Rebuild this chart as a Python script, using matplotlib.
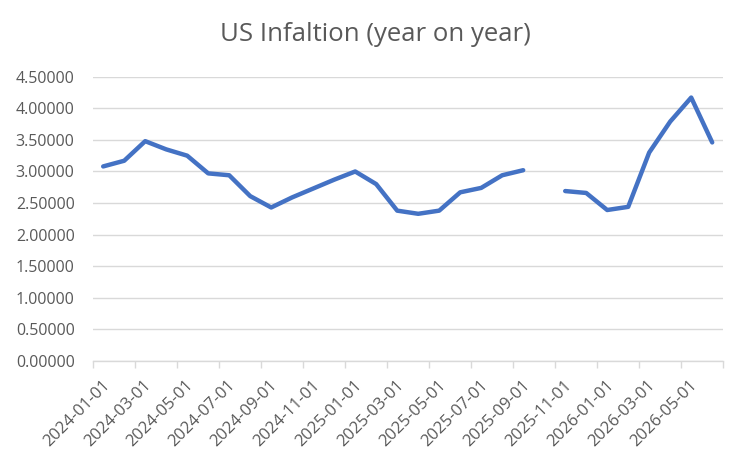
import numpy as np
import matplotlib
matplotlib.use("Agg")
import matplotlib.pyplot as plt
import matplotlib.transforms as mtrans

plt.rcParams['font.family'] = ['Open Sans', 'DejaVu Sans']

months = ["2024-01-01", "2024-02-01", "2024-03-01", "2024-04-01", "2024-05-01", "2024-06-01",
          "2024-07-01", "2024-08-01", "2024-09-01", "2024-10-01", "2024-11-01", "2024-12-01",
          "2025-01-01", "2025-02-01", "2025-03-01", "2025-04-01", "2025-05-01", "2025-06-01",
          "2025-07-01", "2025-08-01", "2025-09-01", "2025-10-01", "2025-11-01", "2025-12-01",
          "2026-01-01", "2026-02-01", "2026-03-01", "2026-04-01", "2026-05-01", "2026-06-01"]
inflation = [3.08, 3.17, 3.48, 3.35, 3.25, 2.97,
             2.94, 2.61, 2.43, 2.59, 2.73, 2.87,
             3.00, 2.80, 2.38, 2.33, 2.38, 2.67,
             2.74, 2.94, 3.02, np.nan, 2.69, 2.66,
             2.39, 2.44, 3.30, 3.79, 4.17, 3.46]
y_ticks = [0.0, 0.5, 1.0, 1.5, 2.0, 2.5, 3.0, 3.5, 4.0, 4.5]

grey_txt = "#595959"
grid_col = "#D9D9D9"

fig = plt.figure(figsize=(7.5, 4.65), dpi=100)
ax = fig.add_axes([0.1236, 0.2237, 0.84, 0.6113])

x = np.arange(len(months))
ax.plot(x, inflation, color="#4472C4", lw=3.2, solid_capstyle="round", solid_joinstyle="round", zorder=3)

ax.set_xlim(-0.5, len(months) - 0.5)
ax.set_ylim(0, 4.5)
ax.set_yticks(y_ticks)
ax.set_yticklabels([f"{v:.5f}" for v in y_ticks])
ax.yaxis.grid(True, color=grid_col, lw=1.0)
ax.set_axisbelow(True)

ax.set_xticks(x[::2])
ax.set_xticklabels(months[::2], rotation=45, ha="right", va="center", rotation_mode="anchor")
ax.set_xticks(np.arange(-0.5, len(months), 2), minor=True)
ax.tick_params(axis="x", which="major", length=0, pad=16, labelsize=12, labelcolor=grey_txt)
ax.tick_params(axis="x", which="minor", length=5, width=1.0, color=grid_col)
ax.tick_params(axis="y", length=0, pad=13, labelsize=11.5, labelcolor=grey_txt)
offset = mtrans.ScaledTranslation(4 / 100, 0, fig.dpi_scale_trans)
for lab in ax.get_xticklabels():
    lab.set_transform(lab.get_transform() + offset)

for s in ["top", "right", "left"]:
    ax.spines[s].set_visible(False)
ax.spines["bottom"].set_color(grid_col)
ax.spines["bottom"].set_linewidth(1.0)

fig.text(0.5, 0.925, "US Infaltion (year on year)", ha="center", va="center", fontsize=18.5, color=grey_txt)

fig.savefig("out.png", dpi=100, facecolor="white")
